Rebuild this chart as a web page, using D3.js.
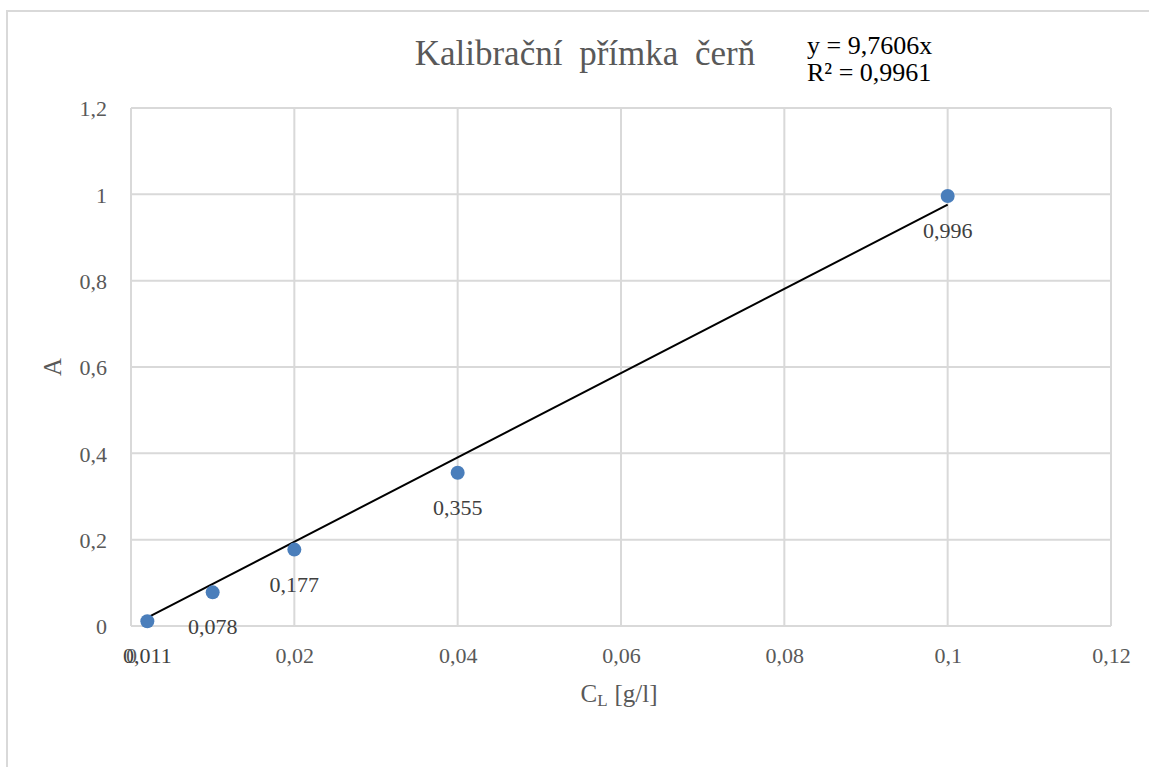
<!DOCTYPE html>
<html>
<head>
<meta charset="utf-8">
<script src="https://cdn.jsdelivr.net/npm/d3@7"></script>
<style>
  html, body { margin: 0; padding: 0; background: #fff; }
  svg { display: block; font-family: "Liberation Serif", "Times New Roman", serif; }
</style>
</head>
<body>
<svg id="chart" width="1149" height="767"></svg>
<script>
// ---- data ----
const concentrations = [0.002, 0.01, 0.02, 0.04, 0.1];
const absorbances = [0.011, 0.078, 0.177, 0.355, 0.996];
const xTickValues = [0, 0.02, 0.04, 0.06, 0.08, 0.1, 0.12];
const yTickValues = [0, 0.2, 0.4, 0.6, 0.8, 1, 1.2];
const trendSlope = 9.7606;
const trendR2 = 0.9961;
const titleText = "Kalibrační přímka čerň";

const fmt = v => String(v).replace(".", ",");

const svg = d3.select("#chart");
const W = 1149, H = 767;
const plot = { left: 131, top: 108, right: 1111, bottom: 626 };

// chart border
svg.append("rect")
  .attr("x", 7).attr("y", 11)
  .attr("width", W + 50).attr("height", H + 50)
  .attr("fill", "#fff").attr("stroke", "#d9d9d9").attr("stroke-width", 2);

const x = d3.scaleLinear().domain([0, 0.12]).range([plot.left, plot.right]);
const y = d3.scaleLinear().domain([0, 1.2]).range([plot.bottom, plot.top]);

// gridlines
const grid = svg.append("g").attr("stroke", "#d9d9d9").attr("stroke-width", 2);
grid.selectAll("line.h").data(yTickValues).join("line")
  .attr("x1", plot.left).attr("x2", plot.right)
  .attr("y1", d => y(d)).attr("y2", d => y(d));
grid.selectAll("line.v").data(xTickValues).join("line")
  .attr("y1", plot.top).attr("y2", plot.bottom)
  .attr("x1", d => x(d)).attr("x2", d => x(d));

// axes (labels only)
const yAxis = svg.append("g")
  .attr("transform", `translate(${plot.left - 24},0)`)
  .call(d3.axisLeft(y).tickValues(yTickValues).tickSize(0).tickPadding(0).tickFormat(fmt));
yAxis.attr("font-family", null);
yAxis.select(".domain").remove();
yAxis.selectAll("text")
  .attr("font-size", 22).attr("fill", "#595959").attr("dy", "0.35em");

const xAxis = svg.append("g")
  .attr("transform", `translate(0,${plot.bottom})`)
  .call(d3.axisBottom(x).tickValues(xTickValues).tickSize(0).tickPadding(0).tickFormat(fmt));
xAxis.attr("font-family", null);
xAxis.select(".domain").remove();
xAxis.selectAll("text")
  .attr("font-size", 22).attr("fill", "#595959")
  .attr("y", 37).attr("dy", 0);

// trendline
const xMin = d3.min(concentrations), xMax = d3.max(concentrations);
svg.append("line")
  .attr("x1", x(xMin)).attr("y1", y(trendSlope * xMin))
  .attr("x2", x(xMax)).attr("y2", y(trendSlope * xMax))
  .attr("stroke", "#000").attr("stroke-width", 2);

// points
const pts = concentrations.map((c, i) => ({ c, a: absorbances[i] }));
svg.append("g").selectAll("circle").data(pts).join("circle")
  .attr("cx", d => x(d.c)).attr("cy", d => y(d.a)).attr("r", 7)
  .attr("fill", "#4a7ebb");

// data labels
svg.append("g").selectAll("text").data(pts).join("text")
  .attr("x", d => x(d.c)).attr("y", d => y(d.a) + 42)
  .attr("text-anchor", "middle")
  .attr("font-size", 22).attr("fill", "#404040")
  .text(d => fmt(d.a));

// title
svg.append("text")
  .attr("x", 585).attr("y", 65)
  .attr("text-anchor", "middle")
  .attr("font-size", 35).attr("fill", "#595959")
  .attr("word-spacing", 8)
  .text(titleText);

// equation
svg.append("text").attr("x", 807).attr("y", 54)
  .attr("font-size", 26).attr("fill", "#000").attr("word-spacing", 0)
  .text("y = " + fmt(trendSlope) + "x");
svg.append("text").attr("x", 807).attr("y", 81)
  .attr("font-size", 26).attr("fill", "#000").attr("word-spacing", 0)
  .text("R² = " + fmt(trendR2));

// axis titles
svg.append("text")
  .attr("transform", "translate(61,367) rotate(-90)")
  .attr("text-anchor", "middle")
  .attr("font-size", 25).attr("fill", "#595959")
  .text("A");

const xt = svg.append("text")
  .attr("x", 619).attr("y", 702)
  .attr("text-anchor", "middle")
  .attr("font-size", 25).attr("fill", "#595959");
xt.append("tspan").text("C");
xt.append("tspan").attr("font-size", 17).attr("dy", 4).text("L");
xt.append("tspan").attr("dy", -4).attr("dx", 7).text("[g/l]");
</script>
</body>
</html>
